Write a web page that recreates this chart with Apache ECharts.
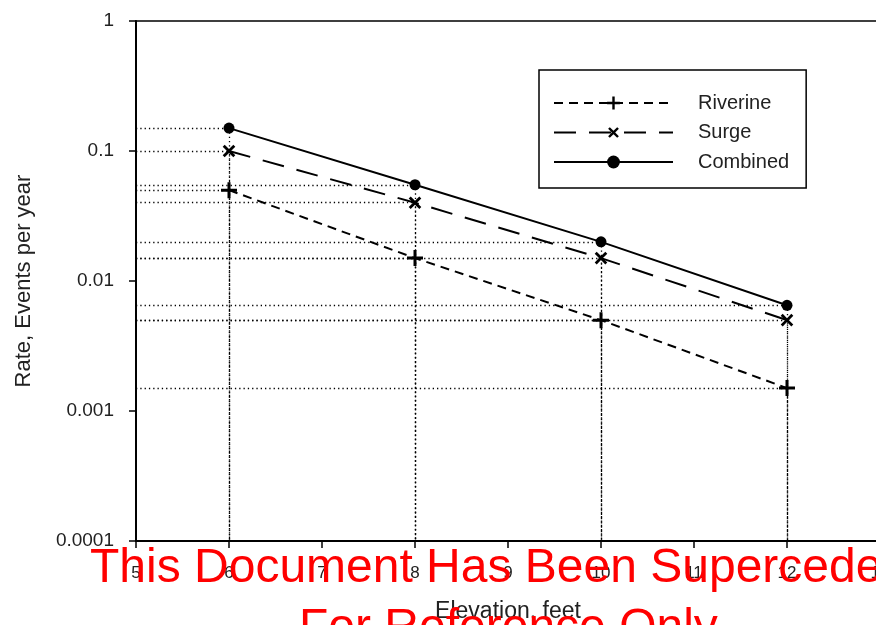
<!DOCTYPE html>
<html>
<head>
<meta charset="utf-8">
<script src="https://cdn.jsdelivr.net/npm/echarts@6/dist/echarts.min.js"></script>
<style>
  html, body { margin: 0; padding: 0; background: #fff; }
  #chart { width: 876px; height: 625px; }
</style>
</head>
<body>
<div id="chart"></div>
<script>
// elevation, feet
const elevation = [6, 8, 10, 12]
// rate, events per year
const riverine = [0.05, 0.015, 0.005, 0.0015]
const surge = [0.1, 0.04, 0.015, 0.005]
const combined = [0.15, 0.055, 0.02, 0.0065]
const yTicks = [0.0001, 0.001, 0.01, 0.1, 1]

// plus marker, also used rotated for the "x"
const plusPath = 'path://M-1.5,-8 L1.5,-8 L1.5,-1.5 L8,-1.5 L8,1.5 L1.5,1.5 L1.5,8 L-1.5,8 L-1.5,1.5 L-8,1.5 L-8,-1.5 L-1.5,-1.5 Z'

function pairs(ys) {
  return elevation.map(function (x, i) { return [x, ys[i]] })
}

// dotted guide lines from each point to both axes
function guides() {
  let out = []
  for (const ys of [riverine, surge, combined]) {
    for (let i = 0; i < elevation.length; i++) {
      out.push({ coords: [[5, ys[i]], [elevation[i], ys[i]]] })
      out.push({ coords: [[elevation[i], ys[i]], [elevation[i], yTicks[0]]] })
    }
  }
  return out
}

let myChart = echarts.init(document.getElementById('chart'))
let font = 'Liberation Sans, Arial, sans-serif'
let option = {
  animation: false,
  textStyle: { fontFamily: font },
  grid: {
    left: 136,
    right: -4,
    top: 21,
    bottom: 84,
    outerBoundsMode: 'none',
    containLabel: false,
    show: true,
    borderColor: '#000',
    borderWidth: 1.5
  },
  legend: {
    orient: 'vertical',
    left: 539,
    top: 70,
    padding: [23, 17, 16, 14],
    itemWidth: 119,
    itemHeight: 16,
    itemGap: 9.5,
    borderColor: '#000',
    borderWidth: 1.5,
    textStyle: { fontSize: 20, color: '#222', padding: [0, 0, 0, 20] },
    data: ['Riverine', 'Surge', 'Combined']
  },
  xAxis: {
    type: 'value',
    min: 5,
    max: 13,
    interval: 1,
    name: 'Elevation, feet',
    nameLocation: 'middle',
    nameGap: 59,
    nameTextStyle: { fontSize: 23, color: '#222' },
    axisLine: { lineStyle: { color: '#000', width: 2 } },
    axisTick: { inside: false, length: 7, lineStyle: { color: '#000', width: 1.5 } },
    axisLabel: { fontSize: 17, color: '#222', margin: 24 },
    splitLine: { show: false }
  },
  yAxis: {
    type: 'log',
    logBase: 10,
    min: 0.0001,
    max: 1,
    name: 'Rate, Events per year',
    nameLocation: 'middle',
    nameGap: 101,
    nameRotate: 90,
    nameTextStyle: { fontSize: 22, color: '#222' },
    axisLine: { show: true, lineStyle: { color: '#000', width: 2 } },
    axisTick: { inside: false, length: 7, lineStyle: { color: '#000', width: 1.5 } },
    axisLabel: {
      fontSize: 19,
      color: '#222',
      margin: 22,
      formatter: function (v) { return String(+Number(v).toPrecision(1)) }
    },
    splitLine: { show: false },
    minorTick: { show: false }
  },
  series: [
    {
      type: 'lines',
      coordinateSystem: 'cartesian2d',
      silent: true,
      z: 1,
      lineStyle: { color: '#000', width: 1.3, type: [1.3, 3], opacity: 1 },
      data: guides()
    },
    {
      name: 'Riverine',
      type: 'line',
      z: 3,
      data: pairs(riverine),
      symbol: plusPath,
      symbolSize: 16,
      itemStyle: { color: '#000' },
      lineStyle: { color: '#000', width: 2, type: [9, 6] }
    },
    {
      name: 'Surge',
      type: 'line',
      z: 3,
      data: pairs(surge),
      symbol: plusPath,
      symbolSize: 15,
      symbolRotate: 45,
      itemStyle: { color: '#000' },
      lineStyle: { color: '#000', width: 2, type: [22, 13] }
    },
    {
      name: 'Combined',
      type: 'line',
      z: 3,
      data: pairs(combined),
      symbol: 'circle',
      symbolSize: 11,
      itemStyle: { color: '#000' },
      lineStyle: { color: '#000', width: 2 }
    }
  ],
  graphic: [
    {
      type: 'text',
      left: 90,
      top: 545,
      z: 100,
      style: { text: 'This Document Has Been Superceded', fill: '#ff0000', font: '48px ' + font }
    },
    {
      type: 'text',
      left: 299,
      top: 605,
      z: 100,
      style: { text: 'For Reference Only', fill: '#ff0000', font: '48px ' + font }
    }
  ]
}
myChart.setOption(option)
</script>
</body>
</html>
